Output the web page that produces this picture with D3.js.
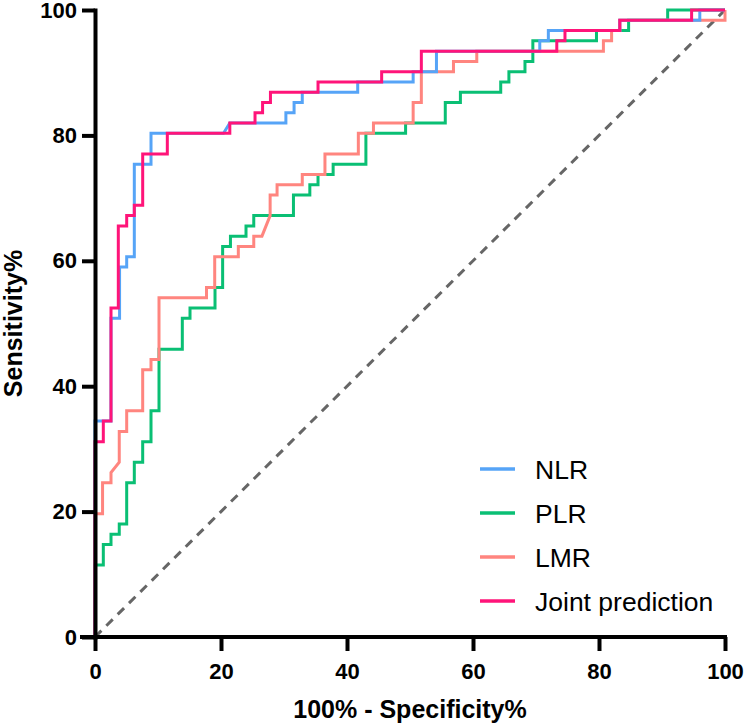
<!DOCTYPE html>
<html>
<head>
<meta charset="utf-8">
<script src="https://cdn.jsdelivr.net/npm/d3@7"></script>
<style>
  body { margin: 0; background: #fff; }
  svg { display: block; font-family: "Liberation Sans", Arial, Helvetica, sans-serif; }
</style>
</head>
<body>
<svg id="chart" width="744" height="728"></svg>
<script>
// ROC points, [100% - specificity, sensitivity]
const nlr = [[0,0],[0,34.43],[2.54,34.43],[2.54,50.82],[3.9,50.82],[3.9,59.02],[5.03,59.02],[5.03,60.66],
  [6.24,60.66],[6.24,75.41],[8.89,75.41],[8.89,80.33],[20.4,80.33],[21.4,81.97],[30.3,81.97],[30.3,83.61],
  [31.6,83.61],[31.6,85.25],[32.9,85.25],[32.9,86.89],[41.7,86.89],[41.7,88.52],[50.5,88.52],[50.5,90.16],
  [54.2,90.16],[54.2,93.44],[70.6,93.44],[70.6,95.08],[71.96,95.08],[71.96,96.72],[83.3,96.72],[83.3,98.36],
  [96.0,98.36],[96.0,100],[100,100]];

const plr = [[0,0],[0,11.48],[1.32,11.48],[1.32,14.75],[2.54,14.75],[2.54,16.39],[3.85,16.39],[3.85,18.03],
  [5.03,18.03],[5.03,24.59],[6.24,24.59],[6.24,27.87],[7.57,27.87],[7.57,31.15],[8.89,31.15],[8.89,36.07],
  [10.16,36.07],[10.16,45.9],[13.86,45.9],[13.86,50.82],[15.08,50.82],[15.08,52.46],[19.05,52.46],[19.05,55.74],
  [20.26,55.74],[20.26,62.3],[21.5,62.3],[21.5,63.93],[23.97,63.93],[23.97,65.57],[25.2,65.57],[25.2,67.21],
  [31.5,67.21],[31.5,70.49],[34.1,70.49],[34.1,72.13],[35.4,72.13],[35.4,73.77],[37.8,73.77],[37.8,75.41],
  [43.0,75.41],[43.0,80.33],[49.3,80.33],[49.3,81.97],[55.6,81.97],[55.6,85.25],[58.0,85.25],[58.0,86.89],
  [64.4,86.89],[64.4,88.52],[65.7,88.52],[65.7,90.16],[68.25,90.16],[68.25,91.8],[69.5,91.8],[69.5,95.08],
  [79.6,95.08],[79.6,96.72],[84.7,96.72],[84.7,98.36],[90.9,98.36],[90.9,100],[100,100]];

const lmr = [[0,0],[0,19.67],[1.2,19.67],[1.2,24.59],[2.54,24.59],[2.54,26.23],[3.85,27.87],[3.85,32.79],
  [5.03,32.79],[5.03,36.07],[7.57,36.07],[7.57,42.62],[8.89,42.62],[8.89,44.26],[10.16,44.26],[10.16,54.1],
  [17.7,54.1],[17.7,55.74],[19.0,55.74],[19.0,60.66],[22.75,60.66],[22.75,62.3],[25.2,62.3],[25.2,63.93],
  [26.5,63.93],[27.8,67.21],[27.8,70.49],[28.9,70.49],[28.9,72.13],[32.9,72.13],[32.9,73.77],[36.5,73.77],
  [36.5,77.05],[41.8,77.05],[41.8,80.33],[44.2,80.33],[44.2,81.97],[50.5,81.97],[50.5,85.25],[51.8,85.25],
  [51.8,90.16],[56.9,90.16],[56.9,91.8],[60.6,91.8],[60.6,93.44],[80.7,93.44],[80.7,95.08],[82.0,95.08],
  [82.0,96.72],[83.3,96.72],[83.3,98.36],[100,98.36],[100,100]];

const joint = [[0,0],[0,31.15],[1.32,31.15],[1.32,34.43],[2.54,34.43],[2.54,52.46],[3.7,52.46],[3.7,65.57],
  [5.03,65.57],[5.03,67.21],[6.24,67.21],[6.24,68.85],[7.57,68.85],[7.57,77.05],[11.48,77.05],[11.48,80.33],
  [21.4,80.33],[21.4,81.97],[25.4,81.97],[25.4,83.61],[26.6,83.61],[26.6,85.25],[27.85,85.25],[27.85,86.89],
  [35.4,86.89],[35.4,88.52],[45.5,88.52],[45.5,90.16],[51.8,90.16],[51.8,93.44],[73.3,93.44],[73.3,95.08],
  [74.6,95.08],[74.6,96.72],[83.3,96.72],[83.3,98.36],[94.7,98.36],[94.7,100],[100,100]];

const reference = [[0,0],[100,100]];

const seriesNames = ['NLR', 'PLR', 'LMR', 'Joint prediction'];
const xTicks = [0, 20, 40, 60, 80, 100];
const yTicks = [0, 20, 40, 60, 80, 100];

const series = [
  { name: 'PLR', values: plr, color: '#0ABF74' },
  { name: 'LMR', values: lmr, color: '#FF857F' },
  { name: 'NLR', values: nlr, color: '#56A4F7' },
  { name: 'Joint prediction', values: joint, color: '#FF1479' }
];
const colorOf = name => series.find(s => s.name === name).color;

const svg = d3.select('#chart');
const margin = { top: 10, right: 19, bottom: 91, left: 95 };
const width = 744, height = 728;

const x = d3.scaleLinear().domain([0, 100]).range([margin.left, width - margin.right]);
const y = d3.scaleLinear().domain([0, 100]).range([height - margin.bottom, margin.top]);

const line = d3.line().x(d => x(d[0])).y(d => y(d[1]));

// chance line
svg.append('path')
  .datum(reference)
  .attr('d', line)
  .attr('fill', 'none')
  .attr('stroke', '#666')
  .attr('stroke-width', 3)
  .attr('stroke-dasharray', '9,7');

// curves
svg.selectAll('.curve')
  .data(series)
  .enter().append('path')
  .attr('class', 'curve')
  .attr('d', d => line(d.values))
  .attr('fill', 'none')
  .attr('stroke', d => d.color)
  .attr('stroke-width', 3);

// axes
const xAxis = d3.axisBottom(x).tickValues(xTicks).tickSize(14).tickSizeOuter(0).tickPadding(12);
const yAxis = d3.axisLeft(y).tickValues(yTicks).tickSize(13).tickSizeOuter(0).tickPadding(5);

const gx = svg.append('g')
  .attr('transform', `translate(0,${y(0)})`)
  .call(xAxis);

const gy = svg.append('g')
  .attr('transform', `translate(${x(0)},0)`)
  .call(yAxis);

[gx, gy].forEach(g => {
  g.select('.domain').attr('stroke', '#000').attr('stroke-width', 4).attr('stroke-linecap', 'square');
  g.selectAll('.tick line').attr('stroke', '#000').attr('stroke-width', 4);
  g.selectAll('.tick text')
    .attr('fill', '#000')
    .style('font-size', '22px')
    .style('font-weight', 'bold')
    .style('font-family', '"Liberation Sans", Arial, sans-serif');
});
// join the two axis lines at the corner
gx.select('.domain').attr('d', `M${x(0) - 13},0H${x(100)}`);

// axis titles
svg.append('text')
  .attr('x', (x(0) + x(100)) / 2)
  .attr('y', 718)
  .attr('text-anchor', 'middle')
  .style('font-size', '25px')
  .style('font-weight', 'bold')
  .text('100% - Specificity%');

svg.append('text')
  .attr('transform', `translate(22,${(y(0) + y(100)) / 2}) rotate(-90)`)
  .attr('text-anchor', 'middle')
  .style('font-size', '25px')
  .style('font-weight', 'bold')
  .text('Sensitivity%');

// legend
const legend = svg.append('g').attr('transform', 'translate(480,469)');
const item = legend.selectAll('g')
  .data(seriesNames)
  .enter().append('g')
  .attr('transform', (d, i) => `translate(0,${i * 44})`);

item.append('line')
  .attr('x1', 0).attr('x2', 35)
  .attr('stroke', d => colorOf(d))
  .attr('stroke-width', 3.5);

item.append('text')
  .attr('x', 55)
  .attr('y', 10)
  .style('font-size', '26.5px')
  .attr('fill', '#000')
  .text(d => d);
</script>
</body>
</html>
